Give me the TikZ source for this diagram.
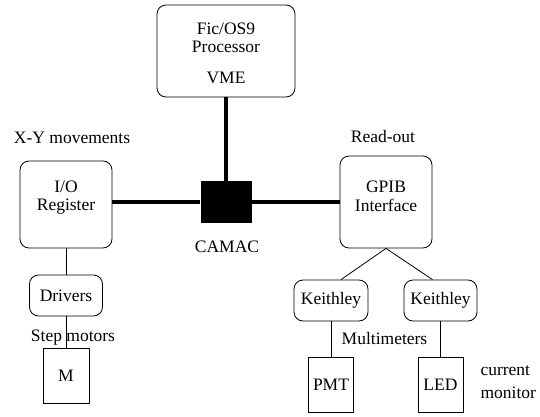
\documentclass[tikz,border=0pt]{standalone}
\usepackage{fontspec}
\setmainfont{LiberationSerif}[Extension=.ttf,UprightFont=*-Regular,BoldFont=*-Bold]
\usetikzlibrary{positioning}
\usetikzlibrary{calc}
\tikzset{
    every node/.style={font=\rmfamily\fontsize{17.5}{18.5}\selectfont},
    round box/.style={shape=rectangle,draw,rounded corners=9pt,line width=0.8pt,align=center,inner sep=0},
    plain box/.style={shape=rectangle,draw,line width=0.8pt,inner sep=0},
    crate/.style={shape=rectangle,fill=black,inner sep=0},
    bus/.style={line width=4.5pt},
    wire/.style={line width=0.8pt}
}
\begin{document}
\begin{tikzpicture}[x=1pt,y=-1pt]
    \useasboundingbox (0,0) rectangle (540,417);
    % crate and processor
    \node(vme)[round box,minimum width=138,minimum height=92,
        label={[align=center,yshift=-2]center:Fic/OS9\\Processor\\[12pt]VME}] at (226,51) {};
    \node(camac)[crate,minimum width=51,minimum height=42] at (226,202) {};
    \node(camac-txt) at (227,247) {CAMAC};
    % movements
    \node(xy-txt) at (72,138) {X-Y movements};
    \node(io)[round box,minimum width=92,minimum height=87,
        label={[align=center,yshift=7]center:I/O\\Register}] at (66,204.5) {};
    \node(drv)[round box,minimum width=73,minimum height=41] at (66,295.5) {Drivers};
    \node(step-txt) at (73,338) {Step motors};
    \node(m)[plain box,minimum width=46,minimum height=55] at (66,375.5) {M};
    % read-out
    \node(ro-txt) at (383,137) {Read-out};
    \node(gpib)[round box,minimum width=92,minimum height=92,
        label={[align=center,yshift=5.5]center:GPIB\\Interface}] at (386,202) {};
    \node(k1)[round box,minimum width=74,minimum height=41] at (331,300.5) {Keithley};
    \node(k2)[round box,minimum width=73,minimum height=41] at (440.5,300.5) {Keithley};
    \node(mm-txt) at (384.5,339) {Multimeters};
    \node(pmt)[plain box,minimum width=45,minimum height=55] at (331,384.5) {PMT};
    \node(led)[plain box,minimum width=45,minimum height=55] at (440.5,384.5) {LED};
    \node(cm-txt)[anchor=west,align=left] at (477,382) {current\\[5pt]monitor};
    % links
    \draw[bus] (vme.south) -- (camac.north);
    \draw[bus] (io.east |- camac) -- (camac.west);
    \draw[bus] (camac.east) -- (gpib.west |- camac);
    \draw[wire] (io.south) -- (drv.north);
    \draw[wire] (drv.south) -- (m.north);
    \draw[wire] (gpib.south) -- ([xshift=10]k1.north);
    \draw[wire] (gpib.south) -- ([xshift=-8]k2.north);
    \draw[wire] (k1.south) -- (pmt.north);
    \draw[wire] (k2.south) -- (led.north);
\end{tikzpicture}
\end{document}
